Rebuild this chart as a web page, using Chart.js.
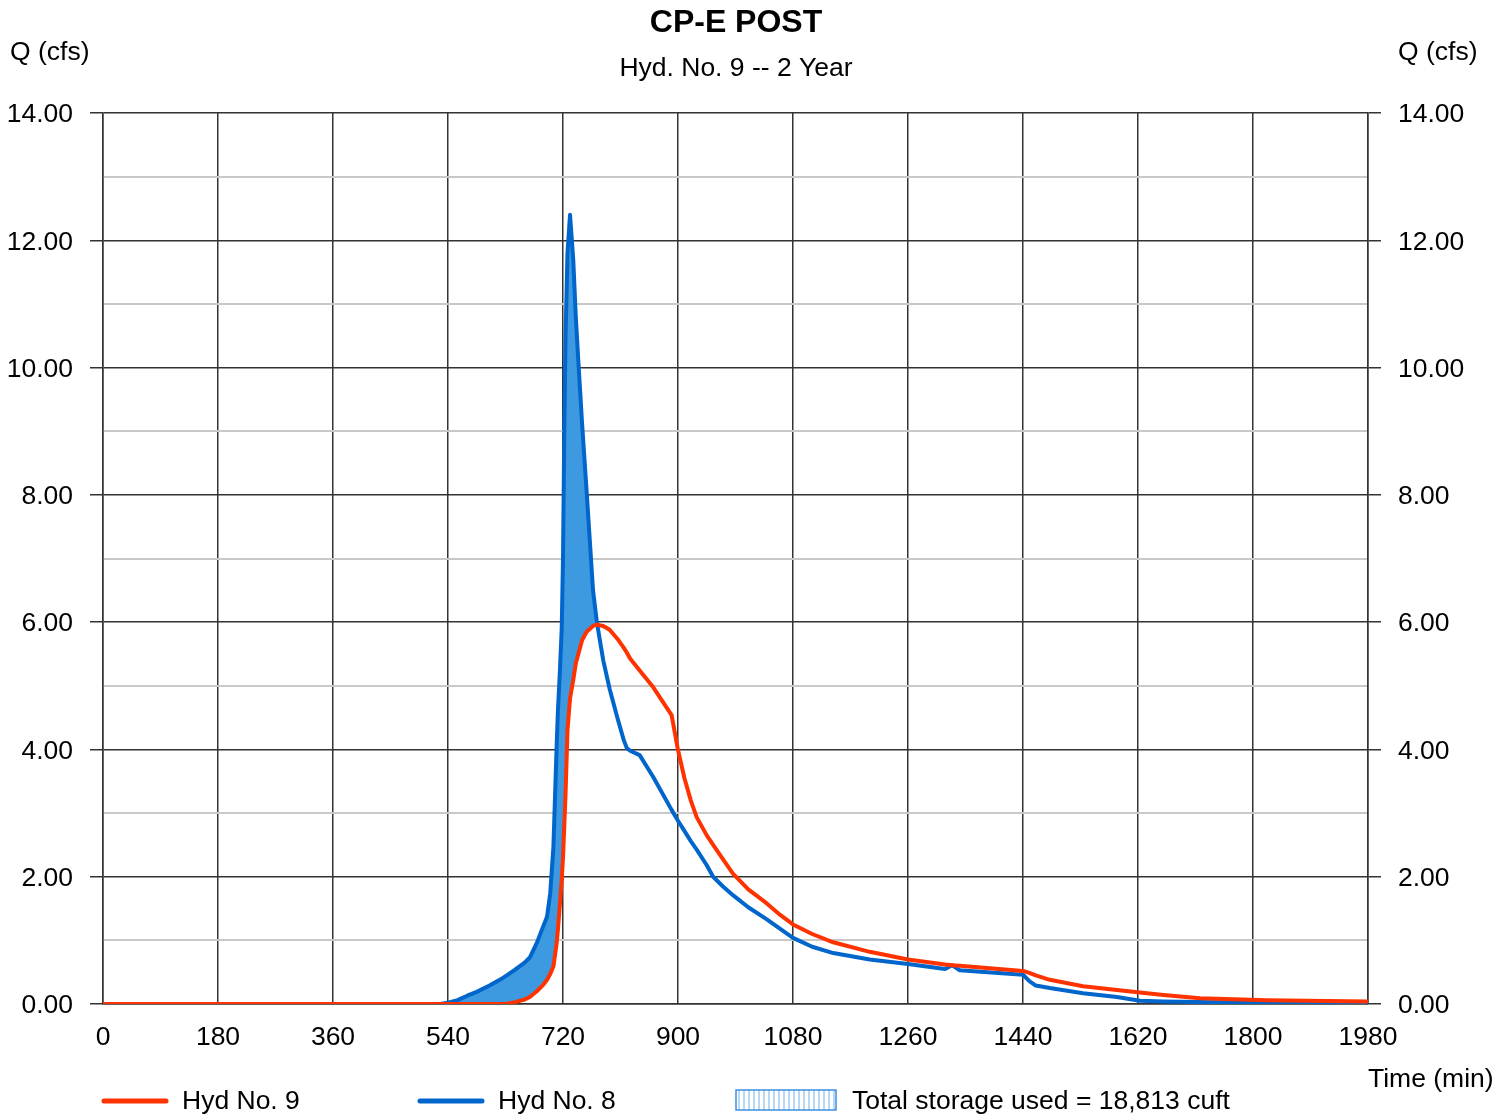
<!DOCTYPE html>
<html>
<head>
<meta charset="utf-8">
<script src="https://cdn.jsdelivr.net/npm/chart.js@4/dist/chart.umd.min.js"></script>
<style>
body { margin: 0; background: #fff; }
#wrap { width: 1512px; height: 1116px; position: relative; }
</style>
</head>
<body>
<div id="wrap"><canvas id="chart_hyd"></canvas></div>
<script>
var timeMin = [0, 500, 530, 540, 555, 570, 585, 605, 626, 632,
    645, 660, 668, 679, 689, 695, 700, 705, 710, 712,
    715, 718, 720, 722, 724, 727, 731, 736, 740, 744,
    750, 757, 767, 773, 783, 793, 805, 815, 820, 825,
    840, 861, 890, 900, 910, 920, 929, 945, 955, 970,
    986, 1010, 1039, 1060, 1080, 1110, 1143, 1200, 1260, 1318,
    1329, 1341, 1440, 1450, 1460, 1482, 1534, 1587, 1623, 1660,
    1717, 1822, 1980];
var hyd9 = [0, 0, 0, 0, 0, 0, 0, 0, 0, 0,
    0.03, 0.07, 0.11, 0.2, 0.3, 0.38, 0.47, 0.59, 0.95, 1.16,
    1.55, 1.95, 2.3, 2.8, 3.3, 4.3, 4.8, 5.09, 5.35, 5.5,
    5.72, 5.85, 5.94, 5.96, 5.94, 5.88, 5.74, 5.6, 5.52, 5.43,
    5.24, 4.98, 4.54, 3.99, 3.55, 3.2, 2.94, 2.65, 2.5, 2.28,
    2.05, 1.8, 1.58, 1.4, 1.25, 1.1, 0.97, 0.82, 0.7, 0.62,
    0.61, 0.6, 0.52, 0.49, 0.45, 0.38, 0.28, 0.22, 0.18, 0.14,
    0.09, 0.06, 0.04];
var hyd8 = [0, 0, 0.005, 0.02, 0.06, 0.13, 0.19, 0.29, 0.41, 0.45,
    0.54, 0.65, 0.73, 0.96, 1.22, 1.37, 1.74, 2.47, 4.04, 4.6,
    5.2, 5.9, 7.0, 9.0, 10.5, 11.8, 12.4, 11.7, 10.8, 10.1,
    9.1, 8.05, 6.5, 6.0, 5.4, 4.95, 4.5, 4.15, 4.02, 3.98,
    3.91, 3.57, 3.05, 2.88, 2.72, 2.56, 2.43, 2.18, 2.0, 1.85,
    1.71, 1.52, 1.33, 1.18, 1.04, 0.9, 0.8, 0.7, 0.63, 0.55,
    0.61, 0.53, 0.46, 0.36, 0.29, 0.25, 0.17, 0.11, 0.05, 0.04,
    0.03, 0.01, 0];
var xTicks = [0, 180, 360, 540, 720, 900, 1080, 1260, 1440, 1620, 1800, 1980];
var seriesNames = ['Hyd No. 9', 'Hyd No. 8'];
var storageLabel = 'Total storage used = 18,813 cuft';
var chartTitle = 'CP-E POST';
var chartSubtitle = 'Hyd. No. 9 -- 2 Year';

var FONT = "'Liberation Sans', Arial, sans-serif";
var FSIZE = 26.5;
var RED = '#ff3300';
var BLUE = '#0066cc';
var FILL = '#3d9ae0';

function toPoints(vals) {
    return timeMin.map(function (t, i) { return { x: t, y: vals[i] }; });
}

function majorColor(ctx) {
    return ctx.tick && ctx.tick.value % 2 === 0 ? '#333333' : '#c8c8c8';
}

var extraText = {
    id: 'extraText',
    afterDraw: function (chart) {
        var c = chart.ctx;
        c.save();
        c.fillStyle = '#000';
        c.textBaseline = 'middle';
        c.textAlign = 'center';
        c.font = 'bold 32px ' + FONT;
        c.fillText(chartTitle, 736, 23);
        c.font = FSIZE + 'px ' + FONT;
        c.fillText(chartSubtitle, 736, 69);
        c.textAlign = 'left';
        c.fillText('Q (cfs)', 10, 53);
        c.fillText('Q (cfs)', 1398, 53);
        c.fillText('Time (min)', 1368, 1080);

        // legend
        c.lineCap = 'round';
        c.lineWidth = 5;
        c.strokeStyle = RED;
        c.beginPath(); c.moveTo(104, 1101); c.lineTo(166, 1101); c.stroke();
        c.strokeStyle = BLUE;
        c.beginPath(); c.moveTo(420, 1101); c.lineTo(482, 1101); c.stroke();
        c.fillText(seriesNames[0], 182, 1102);
        c.fillText(seriesNames[1], 498, 1102);

        c.lineCap = 'butt';
        c.lineWidth = 1.5;
        c.strokeStyle = '#9fcdf2';
        for (var x = 739; x < 836; x += 5) {
            c.beginPath(); c.moveTo(x, 1090); c.lineTo(x, 1110); c.stroke();
        }
        c.strokeStyle = '#3d8fe0';
        c.strokeRect(736, 1090, 100, 20);
        c.fillText(storageLabel, 852, 1102);
        c.restore();
    }
};

var chart_hyd = new Chart(document.getElementById('chart_hyd'), {
    type: 'line',
    data: {
        datasets: [{
            label: seriesNames[0],
            data: toPoints(hyd9),
            borderColor: RED,
            borderWidth: 4,
            borderJoinStyle: 'round',
            pointRadius: 0,
            fill: false,
            tension: 0
        }, {
            label: seriesNames[1],
            data: toPoints(hyd8),
            borderColor: BLUE,
            borderWidth: 4,
            borderJoinStyle: 'round',
            pointRadius: 0,
            fill: { target: 0, above: FILL, below: 'rgba(0,0,0,0)' },
            tension: 0
        }]
    },
    options: {
        responsive: true,
        maintainAspectRatio: false,
        animation: false,
        layout: { padding: { top: 113, left: 0, right: 0, bottom: 0 } },
        plugins: {
            legend: { display: false },
            tooltip: { enabled: false }
        },
        scales: {
            x: {
                type: 'linear',
                min: 0,
                max: 1980,
                afterBuildTicks: function (scale) {
                    scale.ticks = xTicks.map(function (v) { return { value: v }; });
                },
                afterFit: function (scale) { scale.height = 112; },
                ticks: {
                    color: '#000',
                    font: { family: FONT, size: FSIZE },
                    padding: 18,
                    maxRotation: 0,
                    autoSkip: false,
                    callback: function (v) { return String(v); }
                },
                grid: { color: '#333333', lineWidth: 1.5, drawTicks: false },
                border: { color: '#333333', width: 1.5 }
            },
            y: {
                position: 'left',
                min: 0,
                max: 14,
                afterFit: function (scale) { scale.width = 103; },
                ticks: {
                    stepSize: 1,
                    color: '#000',
                    font: { family: FONT, size: FSIZE },
                    padding: 17,
                    labelOffset: 2,
                    callback: function (v) { return v % 2 === 0 ? v.toFixed(2) : ''; }
                },
                grid: {
                    color: majorColor,
                    tickColor: function (ctx) { return ctx.tick.value % 2 === 0 ? '#333333' : 'rgba(0,0,0,0)'; },
                    lineWidth: function (ctx) { return ctx.tick.value % 2 === 0 ? 1.5 : 2; },
                    tickLength: 13
                },
                border: { color: '#333333', width: 1.5 }
            },
            y1: {
                position: 'right',
                min: 0,
                max: 14,
                afterFit: function (scale) { scale.width = 144; },
                ticks: {
                    stepSize: 1,
                    color: '#000',
                    font: { family: FONT, size: FSIZE },
                    padding: 17,
                    labelOffset: 2,
                    callback: function (v) { return v % 2 === 0 ? v.toFixed(2) : ''; }
                },
                grid: {
                    drawOnChartArea: false,
                    tickColor: function (ctx) { return ctx.tick.value % 2 === 0 ? '#333333' : 'rgba(0,0,0,0)'; },
                    lineWidth: 1.5,
                    tickLength: 13
                },
                border: { color: '#333333', width: 1.5 }
            }
        }
    },
    plugins: [extraText]
});
</script>
</body>
</html>
